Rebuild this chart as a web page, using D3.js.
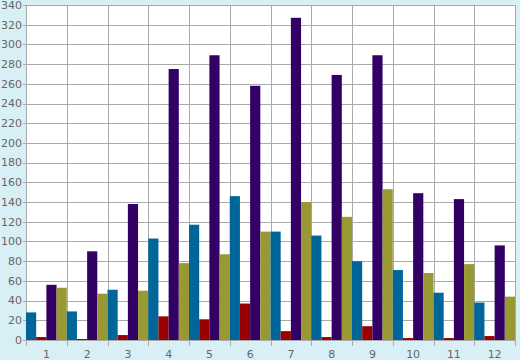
<!DOCTYPE html>
<html><head><meta charset="utf-8">
<script src="https://cdn.jsdelivr.net/npm/d3@7"></script>
<style>
html,body{margin:0;padding:0;background:#d9eff6;}
svg{display:block;}
text{font-family:"DejaVu Sans",Verdana,sans-serif;font-size:11px;fill:#666;}
</style></head>
<body><svg id="c" width="520" height="360"></svg>
<script>
const categories = ["1","2","3","4","5","6","7","8","9","10","11","12"];
const seriesNames = ["A","B","C","D"];
const seriesBlue   = [28, 29, 51, 103, 117, 146, 110, 106, 80, 71, 48, 38];
const seriesRed    = [3, 1, 5, 24, 21, 37, 9, 3, 14, 2, 2, 4];
const seriesPurple = [56, 90, 138, 275, 289, 258, 327, 269, 289, 149, 143, 96];
const seriesOlive  = [53, 47, 50, 78, 87, 110, 140, 125, 153, 68, 77, 44];
const colors = ["#006699", "#990000", "#330066", "#999933"];
const yTicks = d3.range(0, 341, 20);

const series = [seriesBlue, seriesRed, seriesPurple, seriesOlive];
const svg = d3.select("#c");
const m = {l: 26, t: 5, r: 515, b: 340};

const x = d3.scaleBand().domain(categories).range([m.l, m.r]).padding(0);
const xi = d3.scaleBand().domain(d3.range(series.length)).range([0, x.bandwidth()]).padding(0);
const y = d3.scaleLinear().domain([0, 340]).range([m.b, m.t]);

svg.append("rect").attr("x", m.l).attr("y", m.t).attr("width", m.r - m.l).attr("height", m.b - m.t).attr("fill", "#fff");

// horizontal grid
svg.append("g").selectAll("line").data(yTicks).join("line")
  .attr("x1", m.l - 3).attr("x2", m.r)
  .attr("y1", d => Math.round(y(d)) + 0.5).attr("y2", d => Math.round(y(d)) + 0.5)
  .attr("stroke", "#aaa").attr("stroke-width", 1);
// vertical grid at boundaries
const bounds = categories.map(c => x(c)).concat([m.r]);
svg.append("g").selectAll("line").data(bounds).join("line")
  .attr("x1", d => Math.round(d) + 0.5).attr("x2", d => Math.round(d) + 0.5)
  .attr("y1", m.t).attr("y2", m.b + 6)
  .attr("stroke", "#aaa").attr("stroke-width", 1);

// bars
const g = svg.append("g");
categories.forEach((c, i) => {
  series.forEach((s, j) => {
    g.append("rect")
      .attr("x", x(c) + xi(j))
      .attr("width", xi.bandwidth())
      .attr("y", y(s[i]))
      .attr("height", y(0) - y(s[i]))
      .attr("fill", colors[j]);
  });
});

// y labels
svg.append("g").selectAll("text").data(yTicks).join("text")
  .attr("x", 22).attr("y", d => y(d)).attr("dy", "0.35em")
  .attr("text-anchor", "end").text(d => d);
// x labels
svg.append("g").selectAll("text").data(categories).join("text")
  .attr("x", d => x(d) + x.bandwidth() / 2).attr("y", 354).attr("dy", "0.35em")
  .attr("text-anchor", "middle").text(d => d);
</script></body></html>
